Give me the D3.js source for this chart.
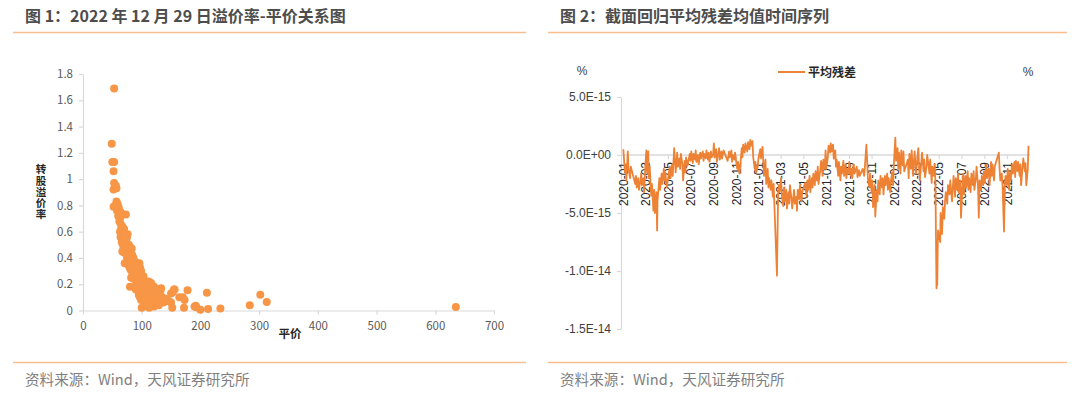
<!DOCTYPE html>
<html>
<head>
<meta charset="utf-8">
<script src="https://cdn.jsdelivr.net/npm/d3@7"></script>
<style>
  html, body { margin: 0; padding: 0; background: #ffffff; }
  svg { display: block; }
</style>
</head>
<body>
<svg id="chart" width="1080" height="399"></svg>
<script>
// ---------------- DATA ----------------
const titles = ["图 1：2022 年 12 月 29 日溢价率-平价关系图", "图 2：截面回归平均残差均值时间序列"];
const sourceText = "资料来源：Wind，天风证券研究所";

// Figure 1: [parity, conversion premium]
const bondPoints = [
  [53,1.69],[49,1.27],[50,1.13],[53,1.13],[52,1.06],[53,0.97],[56,0.95],[52,0.92],[57,0.93],[52,0.79],
  [55,0.80],[57,0.83],[59,0.81],[60,0.79],[58,0.76],[61,0.78],[62,0.74],[60,0.72],[63,0.70],[64,0.75],
  [66,0.73],[73,0.73],[62,0.68],[64,0.66],[65,0.62],[63,0.60],[66,0.58],[64,0.56],[67,0.64],[68,0.60],
  [69,0.57],[70,0.62],[66,0.52],[68,0.50],[70,0.54],[71,0.58],[72,0.55],[69,0.47],[67,0.45],[70,0.44],
  [72,0.50],[73,0.47],[71,0.36],[74,0.52],[75,0.56],[76,0.58],[74,0.45],[76,0.48],[77,0.44],[78,0.50],
  [75,0.40],[78,0.41],[79,0.46],[80,0.43],[81,0.48],[83,0.47],[84,0.42],[80,0.38],[82,0.37],[77,0.35],
  [79,0.33],[81,0.31],[83,0.34],[85,0.36],[86,0.40],[87,0.35],[85,0.30],[84,0.27],[82,0.25],[80,0.18],
  [86,0.28],[88,0.32],[89,0.37],[90,0.30],[91,0.34],[87,0.24],[89,0.27],[90,0.23],[92,0.28],[93,0.31],
  [94,0.26],[95,0.30],[96,0.36],[97,0.33],[92,0.22],[94,0.20],[96,0.24],[98,0.27],[99,0.30],[100,0.25],
  [93,0.18],[95,0.16],[97,0.19],[99,0.22],[101,0.20],[102,0.23],[98,0.14],[100,0.17],[103,0.26],[104,0.19],
  [105,0.22],[90,0.16],[91,0.20],[100,0.02],[95,0.12],[97,0.10],[99,0.08],[101,0.13],[103,0.16],[105,0.15],
  [106,0.18],[107,0.21],[108,0.16],[110,0.19],[112,0.22],[114,0.18],[116,0.21],[118,0.19],[102,0.10],[104,0.08],
  [106,0.11],[107,0.13],[109,0.10],[111,0.14],[113,0.12],[115,0.15],[117,0.13],[119,0.16],[121,0.18],[105,0.05],
  [108,0.06],[110,0.08],[112,0.05],[114,0.09],[116,0.07],[118,0.10],[120,0.12],[122,0.09],[110,0.03],[113,0.02],
  [116,0.04],[119,0.05],[121,0.03],[124,0.06],[126,0.10],[128,0.08],[130,0.12],[123,0.14],[125,0.13],[127,0.05],
  [129,0.04],[131,0.07],[133,0.17],[132,0.15],[135,0.10],[137,0.06],[140,0.08],[142,0.09],[146,0.07],[150,0.13],
  [153,0.14],[155,0.16],[150,0.06],[152,0.02],[156,0.16],[164,0.10],[170,0.10],[173,0.08],[172,0.02],[178,0.155],
  [192,0.036],[190,0.03],[193,0.025],[200,0.005],[211,0.135],[213,0.012],[234,0.016],[284,0.04],[302,0.12],[313,0.065],
  [635,0.027]
];
const parityTicks = [0,100,200,300,400,500,600,700];
const premiumTicks = [0,0.2,0.4,0.6,0.8,1,1.2,1.4,1.6,1.8];

// Figure 2: average cross-sectional regression residual (unit: 1e-15)
const tradeDates = [
"2020-01-02","2020-01-06","2020-01-08","2020-01-10","2020-01-14","2020-01-16","2020-01-20","2020-01-22",
"2020-02-03","2020-02-05","2020-02-07","2020-02-11","2020-02-13","2020-02-17","2020-02-19","2020-02-21","2020-02-25","2020-02-27",
"2020-03-02","2020-03-04","2020-03-06","2020-03-09","2020-03-11","2020-03-13","2020-03-17","2020-03-19","2020-03-23","2020-03-25","2020-03-27","2020-03-31",
"2020-04-02","2020-04-03","2020-04-08","2020-04-10","2020-04-14","2020-04-16","2020-04-20","2020-04-22","2020-04-24","2020-04-28",
"2020-05-06","2020-05-08","2020-05-12","2020-05-14","2020-05-18","2020-05-20","2020-05-22","2020-05-26","2020-05-28",
"2020-06-01","2020-06-03","2020-06-05","2020-06-09","2020-06-11","2020-06-15","2020-06-17","2020-06-19","2020-06-23","2020-06-29",
"2020-07-01","2020-07-03","2020-07-07","2020-07-09","2020-07-13","2020-07-15","2020-07-17","2020-07-21","2020-07-23","2020-07-27","2020-07-29",
"2020-08-03","2020-08-05","2020-08-07","2020-08-11","2020-08-13","2020-08-17","2020-08-19","2020-08-21","2020-08-25","2020-08-27","2020-08-31",
"2020-09-02","2020-09-04","2020-09-08","2020-09-10","2020-09-14","2020-09-16","2020-09-18","2020-09-22","2020-09-24","2020-09-28",
"2020-10-09","2020-10-13","2020-10-15","2020-10-19","2020-10-21","2020-10-23","2020-10-27","2020-10-29",
"2020-11-02","2020-11-04","2020-11-06","2020-11-10","2020-11-12","2020-11-16","2020-11-18","2020-11-20","2020-11-24","2020-11-26",
"2020-12-01","2020-12-03","2020-12-07","2020-12-09","2020-12-11","2020-12-15","2020-12-17","2020-12-21","2020-12-23","2020-12-25","2020-12-29","2020-12-31",
"2021-01-05","2021-01-07","2021-01-11","2021-01-13","2021-01-15","2021-01-19","2021-01-21","2021-01-25","2021-01-27","2021-01-29",
"2021-02-02","2021-02-04","2021-02-08","2021-02-10","2021-02-19","2021-02-22","2021-02-24","2021-02-26",
"2021-03-02","2021-03-04","2021-03-08","2021-03-10","2021-03-12","2021-03-16","2021-03-18","2021-03-22","2021-03-24","2021-03-26","2021-03-30",
"2021-04-01","2021-04-06","2021-04-08","2021-04-12","2021-04-14","2021-04-16","2021-04-20","2021-04-22","2021-04-26","2021-04-28",
"2021-05-06","2021-05-10","2021-05-12","2021-05-14","2021-05-18","2021-05-20","2021-05-24","2021-05-26","2021-05-28",
"2021-06-01","2021-06-03","2021-06-07","2021-06-09","2021-06-11","2021-06-16","2021-06-18","2021-06-22","2021-06-24","2021-06-28","2021-06-30",
"2021-07-02","2021-07-06","2021-07-08","2021-07-12","2021-07-14","2021-07-16","2021-07-20","2021-07-22","2021-07-26","2021-07-28","2021-07-30",
"2021-08-03","2021-08-05","2021-08-09","2021-08-11","2021-08-13","2021-08-17","2021-08-19","2021-08-23","2021-08-25","2021-08-27","2021-08-31",
"2021-09-02","2021-09-06","2021-09-08","2021-09-10","2021-09-14","2021-09-16","2021-09-22","2021-09-24","2021-09-28","2021-09-30",
"2021-10-08","2021-10-12","2021-10-14","2021-10-18","2021-10-20","2021-10-22","2021-10-26","2021-10-28",
"2021-11-01","2021-11-03","2021-11-05","2021-11-09","2021-11-11","2021-11-15","2021-11-17","2021-11-19","2021-11-23","2021-11-25","2021-11-29",
"2021-12-01","2021-12-03","2021-12-07","2021-12-09","2021-12-13","2021-12-15","2021-12-17","2021-12-21","2021-12-23","2021-12-27","2021-12-29","2021-12-31",
"2022-01-04","2022-01-06","2022-01-10","2022-01-12","2022-01-14","2022-01-18","2022-01-20","2022-01-24","2022-01-26","2022-01-28",
"2022-02-07","2022-02-09","2022-02-11","2022-02-15","2022-02-17","2022-02-21","2022-02-23","2022-02-25",
"2022-03-01","2022-03-03","2022-03-07","2022-03-09","2022-03-11","2022-03-15","2022-03-17","2022-03-21","2022-03-23","2022-03-25","2022-03-29","2022-03-31",
"2022-04-06","2022-04-08","2022-04-12","2022-04-14","2022-04-18","2022-04-20","2022-04-22","2022-04-25","2022-04-26","2022-04-27","2022-04-28","2022-04-29",
"2022-05-05","2022-05-06","2022-05-10","2022-05-12","2022-05-16","2022-05-18","2022-05-20","2022-05-24","2022-05-26","2022-05-30",
"2022-06-01","2022-06-06","2022-06-08","2022-06-10","2022-06-14","2022-06-16","2022-06-20","2022-06-22","2022-06-24","2022-06-28","2022-06-30",
"2022-07-04","2022-07-06","2022-07-08","2022-07-12","2022-07-14","2022-07-18","2022-07-20","2022-07-22","2022-07-26","2022-07-28",
"2022-08-01","2022-08-03","2022-08-05","2022-08-09","2022-08-11","2022-08-15","2022-08-17","2022-08-19","2022-08-23","2022-08-25","2022-08-29","2022-08-31",
"2022-09-02","2022-09-06","2022-09-08","2022-09-13","2022-09-15","2022-09-19","2022-09-21","2022-09-23","2022-09-27","2022-09-29",
"2022-10-10","2022-10-12","2022-10-14","2022-10-18","2022-10-20","2022-10-24","2022-10-26","2022-10-28",
"2022-11-01","2022-11-03","2022-11-07","2022-11-09","2022-11-11","2022-11-15","2022-11-17","2022-11-21","2022-11-23","2022-11-25","2022-11-29",
"2022-12-01","2022-12-05","2022-12-07","2022-12-09","2022-12-13","2022-12-15","2022-12-19","2022-12-21","2022-12-23","2022-12-27","2022-12-29"
];
const avgResidual = [
0.5,-1.5,-0.8,-2.2,0.3,-1.2,-2.0,-1.0,
-2.5,-1.8,-2.8,-2.0,-3.0,-2.2,-1.6,-2.6,-2.0,-3.2,
-0.5,0.4,-1.5,0.3,-2.0,-1.0,-3.5,-2.5,-4.8,-3.0,-5.0,-3.2,
-6.5,-4.0,-2.0,-3.0,-1.6,-2.5,-1.2,-2.2,-1.5,-2.8,
-1.0,-2.0,-0.8,-1.8,0.6,-0.5,-1.5,0.2,-1.0,
-0.3,-1.2,0.1,-0.8,-2.2,-0.5,-1.5,-0.2,-0.9,0.1,
-0.5,0.3,-0.7,0.1,-0.4,0.4,-0.6,0.0,-0.8,0.2,-0.3,
0.3,-0.5,0.1,-0.3,0.4,-0.4,0.2,-0.6,0.3,-0.2,0.1,
1.0,-0.2,0.5,-0.6,0.2,0.6,-0.4,0.3,-0.3,0.4,
-0.5,0.3,-0.2,0.4,-0.6,0.0,-0.4,0.2,
-0.8,-1.2,-0.6,-1.6,-1.0,0.6,-0.2,0.9,0.2,1.0,
0.3,1.1,0.5,1.3,0.8,1.2,-0.2,-1.2,-0.6,-1.5,-1.0,-0.3,
0.5,-0.3,0.7,-0.5,-1.8,-0.4,-2.5,-1.2,-2.8,-2.0,
-3.0,-2.2,-3.6,-2.5,-10.4,-3.5,-2.6,-3.2,
-2.0,-3.4,-4.4,-2.8,-4.0,-3.0,-4.6,-3.2,-4.2,-2.6,-3.8,
-4.6,-3.0,-4.2,-3.6,-4.8,-3.0,-3.8,-2.6,-4.0,-3.2,
-2.4,-3.6,-2.2,-3.0,-1.8,-3.2,-2.0,-2.8,-1.6,
-2.6,-1.4,-2.2,-1.0,-2.5,-1.2,-0.5,-1.8,-0.4,-1.2,0.4,
-1.2,-0.2,0.8,0.2,1.0,0.3,0.9,-0.3,0.4,-1.0,-0.4,
-1.8,-0.6,-2.2,-1.0,-1.6,-0.5,-1.8,-0.8,-2.0,-1.2,-1.6,
-0.6,-1.8,-1.2,-2.0,-0.8,-1.6,-1.0,-1.9,-1.3,-1.8,
-1.2,-1.8,-1.0,0.9,-0.4,-2.0,-2.8,-1.6,
-3.2,-2.2,-4.5,-2.6,-5.3,-3.0,-4.0,-2.2,-3.4,-1.8,-2.8,
-2.0,-3.4,-1.8,-2.6,-1.6,-3.0,-2.0,-3.2,-2.2,-1.5,-2.6,-0.8,
1.5,-0.5,0.6,-1.2,0.2,-1.6,0.4,-0.9,0.3,-1.4,
-0.4,-2.0,0.1,-1.2,0.4,-1.8,-0.6,0.3,
-1.6,-0.8,0.6,-1.0,-2.2,-0.6,0.2,-1.4,-0.4,-1.9,-1.0,0.0,
-1.6,-0.4,-2.4,-1.0,-1.8,-0.8,-2.2,-11.5,-10.0,-11.2,-8.6,-6.5,
-7.5,-5.0,-6.8,-4.5,-5.5,-4.0,-3.2,-4.2,-2.6,-3.4,
-2.2,-4.0,-2.8,-1.8,-3.6,-2.0,-3.0,-1.6,-3.2,-2.2,-5.4,
-2.6,-1.6,-3.4,-1.8,-2.8,-1.4,-3.0,-2.0,-3.2,-1.6,
-2.6,-1.4,-3.0,-2.0,-1.0,-2.8,-5.4,-2.2,-3.0,-1.8,-2.6,-1.4,
-2.4,-0.8,-2.0,-1.2,-2.6,-0.6,-1.8,-0.8,-2.2,-1.0,
0.2,-1.2,-2.2,-1.6,-2.6,-6.6,-2.8,-1.8,
-2.6,-1.2,-3.0,-1.5,-2.2,-0.8,-1.6,-0.6,-1.9,-0.5,-1.4,
-0.6,-1.8,-0.8,-2.6,-1.0,-0.3,-1.4,-0.7,-2.6,-1.2,0.8
];
const residualTicks = [5,0,-5,-10,-15]; // ×1e-15
const seriesName = "平均残差";
const xTitle1 = "平价";
const yTitle1 = "转股溢价率";

// ---------------- STYLE ----------------
const ORANGE_RULE = "#F7BE90";
const DOT = "#F79646";
const LINE = "#EE8234";
const AXIS = "#D9D9D9";
const CJK = "'Noto Sans CJK SC', 'Noto Sans', sans-serif";
const ARIAL = "'Liberation Sans', Arial, sans-serif";

const svg = d3.select("#chart");

// Titles, rules, sources
const panels = [
  {x0: 13, x1: 526, tx: 25},
  {x0: 548, x1: 1067, tx: 560}
];
panels.forEach((p, i) => {
  svg.append("text").attr("x", p.tx).attr("y", 21.5)
    .attr("font-family", CJK).attr("font-size", 16).attr("font-weight", "bold")
    .attr("fill", "#4D4D4D").text(titles[i]);
  svg.append("line").attr("x1", p.x0).attr("x2", p.x1).attr("y1", 32.5).attr("y2", 32.5)
    .attr("stroke", ORANGE_RULE).attr("stroke-width", 1.6);
  svg.append("line").attr("x1", p.x0).attr("x2", p.x1).attr("y1", 362.5).attr("y2", 362.5)
    .attr("stroke", ORANGE_RULE).attr("stroke-width", 1.6);
  svg.append("text").attr("x", p.tx).attr("y", 385)
    .attr("font-family", CJK).attr("font-size", 14.6)
    .attr("fill", "#7F7F7F").text(sourceText);
});

// ---------------- FIGURE 1 ----------------
const x1 = d3.scaleLinear().domain([0, 700]).range([83, 494]);
const y1 = d3.scaleLinear().domain([0, 1.8]).range([310.5, 74]);

const gx1 = svg.append("g").attr("transform", `translate(0,${y1(0)})`)
  .call(d3.axisBottom(x1).tickValues(parityTicks).tickSize(4).tickSizeOuter(0).tickFormat(d3.format("d")));
const gy1 = svg.append("g").attr("transform", `translate(${x1(0)},0)`)
  .call(d3.axisLeft(y1).tickValues(premiumTicks).tickSize(4).tickSizeOuter(0).tickFormat(d => String(+d.toFixed(1))));
[gx1, gy1].forEach(g => {
  g.select(".domain").attr("stroke", AXIS).attr("stroke-width", 1.2);
  g.selectAll(".tick line").attr("stroke", AXIS).attr("stroke-width", 1.2);
  g.selectAll("text").attr("font-family", CJK).attr("font-size", 11.5).attr("fill", "#595959");
});
gx1.selectAll("text").attr("y", 9).attr("dy", "0.9em");
gy1.selectAll("text").attr("x", -10);

svg.append("g").selectAll("circle").data(bondPoints).join("circle")
  .attr("cx", d => x1(d[0])).attr("cy", d => y1(d[1])).attr("r", 4)
  .attr("fill", DOT);

// axis titles
svg.append("text").attr("x", 290).attr("y", 338)
  .attr("text-anchor", "middle").attr("font-family", CJK).attr("font-size", 11.5)
  .attr("font-weight", "bold").attr("fill", "#262626").text(xTitle1);
svg.append("text")
  .attr("x", 41).attr("y", 192)
  .attr("text-anchor", "middle")
  .style("writing-mode", "vertical-rl").style("text-orientation", "upright")
  .style("letter-spacing", "0.6px")
  .attr("font-family", CJK).attr("font-size", 10.5)
  .attr("font-weight", "bold").attr("fill", "#262626").text(yTitle1);

// ---------------- FIGURE 2 ----------------
const parseDate = d3.utcParse("%Y-%m-%d");
const series = tradeDates.map((d, i) => ({date: parseDate(d), value: avgResidual[i]}));

const x2 = d3.scaleUtc().domain([parseDate("2020-01-01"), parseDate("2022-11-01")]).range([623, 1007]);
const y2 = d3.scaleLinear().domain([-15, 5]).range([329, 97]);

const expFmt = d => {
  const v = d * 1e-15;
  if (v === 0) return "0.0E+00";
  return v.toExponential(1).toUpperCase();
};

const gy2 = svg.append("g").attr("transform", "translate(621,0)")
  .call(d3.axisLeft(y2).tickValues(residualTicks).tickSize(4).tickSizeOuter(0).tickFormat(expFmt));
gy2.select(".domain").attr("stroke", AXIS).attr("stroke-width", 1.2);
gy2.selectAll(".tick line").attr("stroke", AXIS).attr("stroke-width", 1.2);
gy2.selectAll("text").attr("x", -10).attr("font-family", ARIAL).attr("font-size", 12).attr("fill", "#404040");

// zero line / date axis
const monthTicks = d3.utcMonth.every(2).range(parseDate("2020-01-01"), parseDate("2022-12-01"));
const gx2 = svg.append("g").attr("transform", `translate(0,${y2(0)})`)
  .call(d3.axisBottom(x2).tickValues(monthTicks).tickSize(4).tickSizeOuter(0).tickFormat(d3.utcFormat("%Y-%m")));
gx2.select(".domain").remove();
gx2.insert("line", ":first-child").attr("x1", 621).attr("x2", 1030).attr("y1", 0).attr("y2", 0)
  .attr("stroke", AXIS).attr("stroke-width", 1.5);
gx2.selectAll(".tick line").attr("stroke", AXIS).attr("stroke-width", 1.2);
gx2.selectAll("text")
  .attr("font-family", ARIAL).attr("font-size", 12).attr("fill", "#262626")
  .attr("x", -7).attr("y", 0).attr("dy", "0.35em")
  .attr("transform", "rotate(-90)").style("text-anchor", "end");

const line = d3.line().x(d => x2(d.date)).y(d => y2(d.value));
svg.append("path").datum(series).attr("d", line)
  .attr("fill", "none").attr("stroke", LINE).attr("stroke-width", 1.8).attr("stroke-linejoin", "round");

// units and legend
svg.append("text").attr("x", 582).attr("y", 75).attr("text-anchor", "middle")
  .attr("font-family", ARIAL).attr("font-size", 12).attr("fill", "#404040").text("%");
svg.append("text").attr("x", 1028).attr("y", 76).attr("text-anchor", "middle")
  .attr("font-family", ARIAL).attr("font-size", 12).attr("fill", "#404040").text("%");
svg.append("line").attr("x1", 778).attr("x2", 805).attr("y1", 72).attr("y2", 72)
  .attr("stroke", LINE).attr("stroke-width", 2);
svg.append("text").attr("x", 808).attr("y", 76.5)
  .attr("font-family", CJK).attr("font-size", 12).attr("font-weight", "bold")
  .attr("fill", "#262626").text(seriesName);
</script>
</body>
</html>
